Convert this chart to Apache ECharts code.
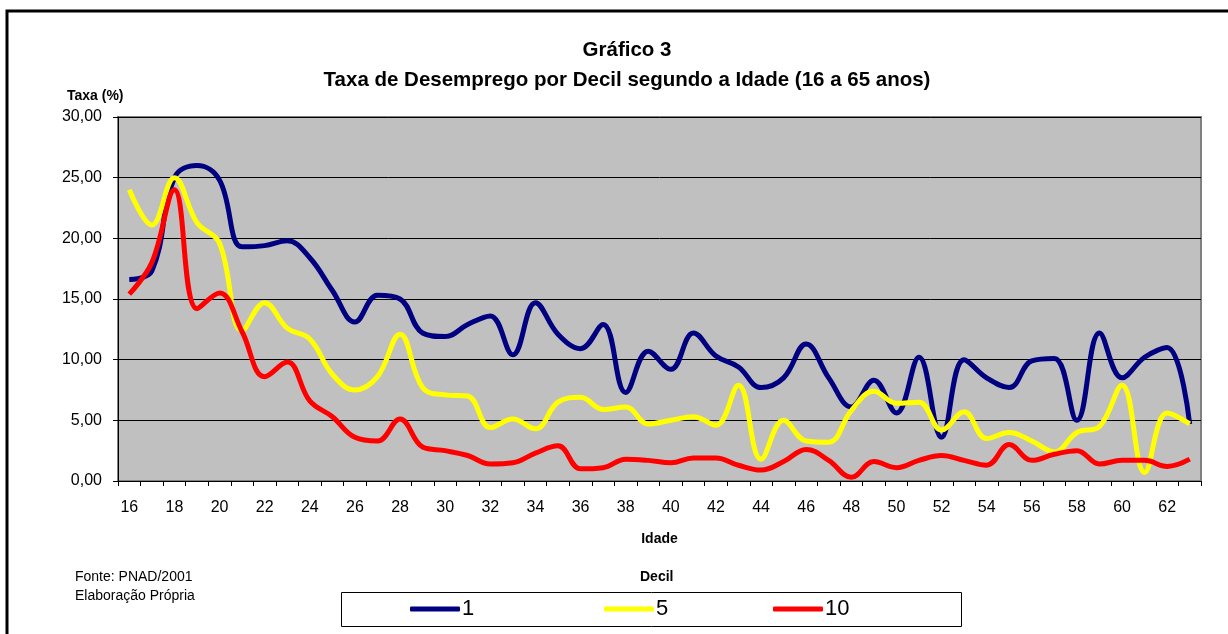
<!DOCTYPE html>
<html>
<head>
<meta charset="utf-8">
<script src="https://cdn.jsdelivr.net/npm/echarts@6/dist/echarts.min.js"></script>
<style>
  html, body { margin: 0; padding: 0; background: #fff; }
  #chart { width: 1228px; height: 634px; }
</style>
</head>
<body>
<div id="chart"></div>
<script>
const idades = []
for (let a = 16; a <= 63; a++) idades.push(String(a))

const decil1 = [16.6, 17.3, 25.0, 26.0, 24.8, 19.3, 19.4, 19.8, 18.4, 15.7, 13.1, 15.3, 15.0, 12.2, 11.9, 12.9,
  13.6, 10.4, 14.7, 12.1, 10.9, 12.9, 7.3, 10.7, 9.2, 12.2, 10.3, 9.4, 7.7, 8.5, 11.3, 8.5,
  6.1, 8.3, 5.6, 10.2, 3.6, 10.0, 8.5, 7.7, 9.9, 10.1, 5.0, 12.2, 8.5, 10.2, 11.0, 4.7]
const decil5 = [24.0, 21.1, 25.0, 21.3, 19.6, 12.4, 14.7, 12.6, 11.7, 8.8, 7.5, 8.6, 12.1, 7.7, 7.1, 7.0,
  4.4, 5.1, 4.3, 6.5, 6.9, 5.9, 6.1, 4.7, 5.0, 5.3, 4.6, 7.9, 1.8, 5.0, 3.3, 3.2,
  5.8, 7.4, 6.4, 6.5, 4.2, 5.7, 3.5, 4.0, 3.3, 2.4, 4.0, 4.5, 7.9, 0.7, 5.6, 4.7]
const decil10 = [15.4, 18.0, 24.0, 14.2, 15.5, 12.3, 8.6, 9.8, 6.6, 5.3, 3.6, 3.3, 5.1, 2.8, 2.5, 2.1,
  1.4, 1.5, 2.3, 2.9, 1.0, 1.1, 1.8, 1.7, 1.5, 1.9, 1.9, 1.3, 0.9, 1.6, 2.6, 1.7,
  0.3, 1.6, 1.1, 1.7, 2.1, 1.7, 1.3, 3.0, 1.7, 2.2, 2.5, 1.4, 1.7, 1.7, 1.2, 1.8]

const font = 'Liberation Sans, Arial, sans-serif'
const chart = echarts.init(document.getElementById('chart'))

function legendAt(name, left) {
  return {
    data: [name],
    left: left,
    top: 598,
    icon: 'roundRect',
    itemWidth: 50,
    itemHeight: 5,
    padding: 0,
    textStyle: { fontFamily: font, fontSize: 22, color: '#000', padding: [0, 0, 0, -3] },
  }
}

chart.setOption({
  animation: false,
  backgroundColor: '#fff',
  title: {
    text: 'Gráfico 3\nTaxa de Desemprego por Decil segundo a Idade (16 a 65 anos)',
    left: 622,
    textAlign: 'center',
    top: 30,
    textStyle: { fontFamily: font, fontSize: 20.5, fontWeight: 'bold', color: '#000', lineHeight: 30 },
  },
  grid: {
    left: 118,
    right: 27,
    top: 117,
    bottom: 153,
    show: true,
    backgroundColor: '#C0C0C0',
    borderColor: '#808080',
    borderWidth: 2,
  },
  legend: [legendAt('1', 410), legendAt('5', 604), legendAt('10', 773)],
  xAxis: {
    type: 'category',
    data: idades,
    boundaryGap: true,
    name: 'Idade',
    nameLocation: 'middle',
    nameGap: 51,
    nameTextStyle: { fontFamily: font, fontSize: 14, fontWeight: 'bold', color: '#000' },
    axisLine: { lineStyle: { color: '#000', width: 1 } },
    axisTick: { show: true, interval: 0, length: 5, lineStyle: { color: '#000' } },
    axisLabel: { interval: 1, margin: 19, fontFamily: font, fontSize: 16, color: '#000' },
    splitLine: { show: false },
  },
  yAxis: {
    type: 'value',
    min: 0,
    max: 30,
    interval: 5,
    axisLine: { show: true, lineStyle: { color: '#000', width: 1 } },
    axisTick: { show: true, length: 5, lineStyle: { color: '#000' } },
    axisLabel: {
      margin: 16,
      fontFamily: font,
      fontSize: 16,
      color: '#000',
      formatter: v => v.toFixed(2).replace('.', ','),
    },
    splitLine: { show: true, lineStyle: { color: '#000', width: 1 } },
  },
  series: [
    { name: '1', type: 'line', data: decil1, smooth: 0.4, showSymbol: false, lineStyle: { color: '#000080', width: 5 }, itemStyle: { color: '#000080' } },
    { name: '5', type: 'line', data: decil5, smooth: 0.4, showSymbol: false, lineStyle: { color: '#FFFF00', width: 5 }, itemStyle: { color: '#FFFF00' } },
    { name: '10', type: 'line', data: decil10, smooth: 0.4, showSymbol: false, lineStyle: { color: '#FF0000', width: 5 }, itemStyle: { color: '#FF0000' } },
  ],
  graphic: [
    { type: 'rect', shape: { x: 7, y: 11, width: 1240, height: 640 }, style: { fill: 'none', stroke: '#000', lineWidth: 3 }, silent: true },
    { type: 'text', left: 67, top: 89, style: { text: 'Taxa (%)', font: 'bold 14px ' + font, fill: '#000' } },
    { type: 'text', left: 75, top: 570, style: { text: 'Fonte: PNAD/2001', font: '14px ' + font, fill: '#000' } },
    { type: 'text', left: 75, top: 589, style: { text: 'Elaboração Própria', font: '14px ' + font, fill: '#000' } },
    { type: 'text', left: 640, top: 570, style: { text: 'Decil', font: 'bold 14px ' + font, fill: '#000' } },
    { type: 'rect', z: -1, shape: { x: 341.5, y: 592.5, width: 620, height: 34 }, style: { fill: '#fff', stroke: '#000', lineWidth: 1 }, silent: true },
  ],
})
</script>
</body>
</html>
